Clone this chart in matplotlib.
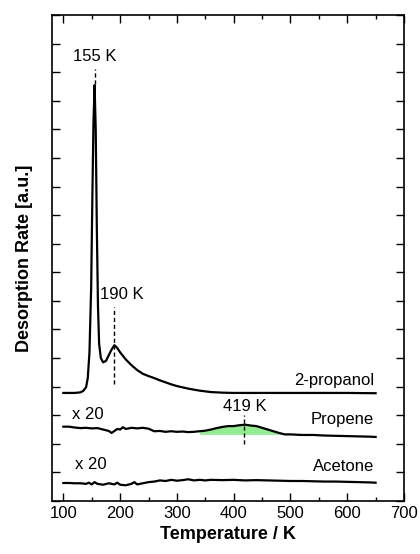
import matplotlib.pyplot as plt
from matplotlib.ticker import MultipleLocator, NullFormatter

plt.rcParams['font.family'] = ['Liberation Sans', 'DejaVu Sans']

# 2-propanol trace
t_prop = [100, 110, 120, 130, 135, 140, 143, 146, 149, 151, 153, 155, 157, 159, 161, 163, 166, 170,
          175, 180, 185, 190, 195, 200, 210, 220, 230, 240, 250, 260, 270, 280, 290, 300, 320, 340,
          360, 380, 400, 450, 500, 550, 600, 650]
y_prop = [3.78, 3.78, 3.78, 3.80, 3.85, 3.98, 4.3, 5.2, 7.5, 10.5, 13.2, 14.55, 13.0, 9.5, 6.8, 5.5,
          5.0, 4.85, 4.9, 5.1, 5.3, 5.45, 5.35, 5.2, 4.95, 4.75, 4.58, 4.45, 4.37, 4.3, 4.22, 4.15,
          4.08, 4.02, 3.93, 3.86, 3.81, 3.79, 3.78, 3.78, 3.78, 3.78, 3.78, 3.77]

# propene trace (x 20)
t_pro = [100, 110, 120, 130, 140, 150, 160, 170, 180, 185, 190, 195, 200, 205, 210, 220, 230, 240,
         250, 260, 270, 280, 290, 300, 310, 320, 330, 340, 350, 360, 370, 380, 390, 400, 410, 420,
         430, 440, 450, 460, 470, 480, 490, 500, 520, 540, 560, 580, 600, 620, 640, 650]
y_pro = [2.60, 2.60, 2.57, 2.55, 2.56, 2.54, 2.55, 2.50, 2.45, 2.38, 2.45, 2.52, 2.50, 2.58, 2.52,
         2.56, 2.54, 2.56, 2.53, 2.44, 2.45, 2.42, 2.44, 2.42, 2.43, 2.41, 2.42, 2.44, 2.46, 2.50,
         2.55, 2.59, 2.62, 2.62, 2.65, 2.67, 2.64, 2.62, 2.56, 2.50, 2.44, 2.38, 2.33, 2.33, 2.31,
         2.31, 2.29, 2.28, 2.27, 2.26, 2.25, 2.24]

# acetone trace (x 20)
t_ace = [100, 110, 120, 130, 140, 145, 150, 155, 160, 170, 180, 190, 195, 200, 210, 220, 225, 230,
         240, 250, 260, 270, 280, 290, 300, 310, 320, 330, 340, 350, 360, 380, 400, 420, 440, 460,
         480, 500, 520, 540, 560, 580, 600, 620, 640, 650]
y_ace = [0.63, 0.63, 0.62, 0.62, 0.60, 0.64, 0.58, 0.66, 0.60, 0.57, 0.62, 0.58, 0.64, 0.57, 0.55,
         0.60, 0.66, 0.58, 0.62, 0.66, 0.68, 0.72, 0.70, 0.74, 0.71, 0.73, 0.76, 0.72, 0.74, 0.72,
         0.74, 0.73, 0.74, 0.72, 0.73, 0.72, 0.71, 0.70, 0.70, 0.69, 0.68, 0.68, 0.67, 0.66, 0.65,
         0.64]

propene_base = 2.33
fill_range = (340, 490)

fig = plt.figure(figsize=(4.2, 5.54), dpi=100)
ax = fig.add_axes([52 / 420, 53 / 554, 352 / 420, 486 / 554])

ax.plot(t_prop, y_prop, color='black', lw=1.6)
ax.plot(t_pro, y_pro, color='black', lw=1.6)
ax.plot(t_ace, y_ace, color='black', lw=1.6)

# green area under the propene peak
ft = [t for t in t_pro if fill_range[0] <= t <= fill_range[1]]
fy = [y for t, y in zip(t_pro, y_pro) if fill_range[0] <= t <= fill_range[1]]
ax.fill_between(ft, propene_base, fy, where=[y >= propene_base for y in fy],
                color='#90ee90', lw=0, zorder=1)

# peak markers
ax.plot([155, 155], [14.6, 15.1], color='black', lw=1, ls=(0, (3, 2)))
ax.plot([190, 190], [4.1, 6.8], color='black', lw=1, ls=(0, (3, 2)))
ax.plot([419, 419], [2.0, 3.0], color='black', lw=1, ls=(0, (3, 2)))
ax.text(155, 15.3, '155 K', ha='center', va='bottom', fontsize=12)
ax.text(203, 6.95, '190 K', ha='center', va='bottom', fontsize=12)
ax.text(419, 3.05, '419 K', ha='center', va='bottom', fontsize=12)

# trace names
ax.text(647, 3.95, '2-propanol', ha='right', va='bottom', fontsize=12)
ax.text(647, 2.6, 'Propene', ha='right', va='bottom', fontsize=12)
ax.text(647, 0.95, 'Acetone', ha='right', va='bottom', fontsize=12)
ax.text(116, 2.75, 'x 20', ha='left', va='bottom', fontsize=12)
ax.text(121, 1.0, 'x 20', ha='left', va='bottom', fontsize=12)

ax.set_xlim(80, 700)
ax.set_ylim(0, 17)
ax.xaxis.set_major_locator(MultipleLocator(100))
ax.xaxis.set_minor_locator(MultipleLocator(50))
ax.yaxis.set_major_locator(MultipleLocator(1))
ax.yaxis.set_major_formatter(NullFormatter())
ax.tick_params(which='both', direction='in', top=True, right=True, width=1)
ax.tick_params(which='major', length=6, labelsize=12)
ax.tick_params(which='minor', length=3)
ax.tick_params(axis='y', length=6)
for s in ax.spines.values():
    s.set_linewidth(1.2)

ax.set_xlabel('Temperature / K', fontsize=13, fontweight='bold')
ax.set_ylabel('Desorption Rate [a.u.]', fontsize=13, fontweight='bold', labelpad=10)

fig.savefig('out.png', dpi=100)
